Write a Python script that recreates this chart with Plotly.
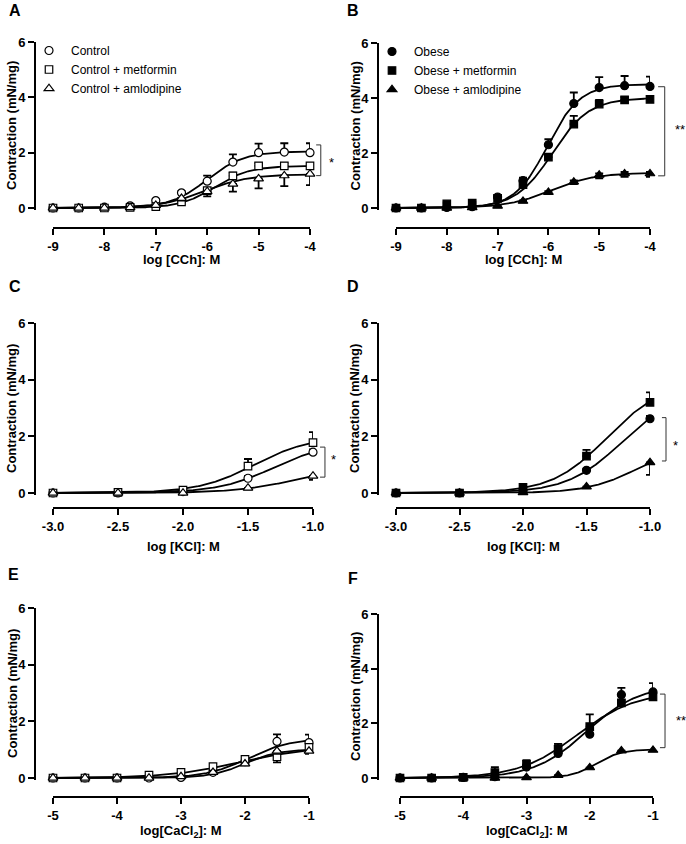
import numpy as np
import plotly.graph_objects as go

W, H = 686, 844

# ---------------- data ----------------
x_cch = [-9, -8.5, -8, -7.5, -7, -6.5, -6, -5.5, -5, -4.5, -4]
x_kcl = [-3.0, -2.5, -2.0, -1.5, -1.0]
x_ca = [-5, -4.5, -4, -3.5, -3, -2.5, -2, -1.5, -1]

tick_cch = [-9, -8, -7, -6, -5, -4]
tick_cch_text = ["-9", "-8", "-7", "-6", "-5", "-4"]
tick_kcl = [-3.0, -2.5, -2.0, -1.5, -1.0]
tick_kcl_text = ["-3.0", "-2.5", "-2.0", "-1.5", "-1.0"]
tick_ca = [-5, -4, -3, -2, -1]
tick_ca_text = ["-5", "-4", "-3", "-2", "-1"]
y_ticks = [0, 2, 4, 6]

names_control = ["Control", "Control + metformin", "Control + amlodipine"]
names_obese = ["Obese", "Obese + metformin", "Obese + amlodipine"]

# Panel A: CCh, control groups
A_control = [0, 0, 0.03, 0.08, 0.27, 0.55, 0.97, 1.66, 2.0, 2.02, 2.0]
A_control_up = [0, 0, 0.02, 0.03, 0.04, 0.06, 0.2, 0.28, 0.33, 0.32, 0.34]
A_control_dn = [0, 0, 0, 0, 0, 0, 0, 0, 0, 0, 0]
A_metf = [0, 0, 0, 0.02, 0.05, 0.22, 0.63, 1.16, 1.52, 1.52, 1.52]
A_metf_up = [0, 0, 0, 0.02, 0.03, 0.05, 0.08, 0.12, 0.1, 0.1, 0.1]
A_metf_dn = [0, 0, 0, 0, 0, 0, 0, 0, 0, 0, 0]
A_amlo = [0, 0, 0, 0.02, 0.1, 0.35, 0.6, 0.87, 1.06, 1.17, 1.23]
A_amlo_up = [0, 0, 0, 0, 0, 0, 0, 0, 0, 0, 0]
A_amlo_dn = [0, 0, 0, 0.02, 0.04, 0.08, 0.18, 0.28, 0.35, 0.38, 0.4]

# Panel B: CCh, obese groups
B_obese = [0, 0, 0.02, 0.05, 0.4, 1.0, 2.3, 3.8, 4.38, 4.45, 4.42]
B_obese_up = [0, 0, 0.02, 0.03, 0.08, 0.1, 0.2, 0.4, 0.38, 0.35, 0.36]
B_obese_dn = [0, 0, 0, 0, 0, 0, 0, 0, 0, 0, 0]
B_metf = [0, 0, 0.15, 0.18, 0.35, 0.85, 1.85, 3.05, 3.78, 3.93, 3.95]
B_metf_up = [0, 0, 0.05, 0.05, 0.06, 0.08, 0.1, 0.3, 0.15, 0.1, 0.1]
B_metf_dn = [0, 0, 0, 0, 0, 0, 0, 0, 0, 0, 0]
B_amlo = [0, 0, 0, 0.02, 0.07, 0.25, 0.57, 0.95, 1.2, 1.25, 1.25]
B_amlo_up = [0, 0, 0, 0, 0.02, 0.03, 0.04, 0.05, 0.06, 0.06, 0.06]
B_amlo_dn = [0, 0, 0, 0.01, 0.03, 0.04, 0.06, 0.08, 0.12, 0.12, 0.12]

# Panel C: KCl, control groups
C_control = [0, 0, 0.05, 0.52, 1.44]
C_control_up = [0, 0, 0.03, 0.08, 0.1]
C_control_dn = [0, 0, 0, 0, 0]
C_metf = [0, 0.02, 0.1, 0.95, 1.78]
C_metf_up = [0, 0.01, 0.04, 0.25, 0.37]
C_metf_dn = [0, 0, 0, 0, 0]
C_amlo = [0, 0, 0, 0.18, 0.6]
C_amlo_up = [0, 0, 0, 0, 0]
C_amlo_dn = [0, 0, 0, 0.05, 0.14]

# Panel D: KCl, obese groups
D_obese = [0, 0, 0.1, 0.8, 2.62]
D_obese_up = [0, 0, 0.03, 0.06, 0.1]
D_obese_dn = [0, 0, 0, 0, 0]
D_metf = [0, 0, 0.2, 1.3, 3.2]
D_metf_up = [0, 0, 0.05, 0.22, 0.35]
D_metf_dn = [0, 0, 0, 0, 0]
D_amlo = [0, 0, 0.02, 0.22, 1.08]
D_amlo_up = [0, 0, 0, 0, 0]
D_amlo_dn = [0, 0, 0.01, 0.04, 0.44]

# Panel E: CaCl2, control groups
E_control = [0, 0, 0, 0, 0.02, 0.2, 0.58, 1.29, 1.25]
E_control_up = [0, 0, 0, 0, 0.02, 0.05, 0.05, 0.25, 0.28]
E_control_dn = [0, 0, 0, 0, 0, 0, 0, 0, 0]
E_metf = [0, 0, 0, 0.1, 0.2, 0.4, 0.66, 0.75, 1.08]
E_metf_up = [0, 0, 0, 0, 0, 0, 0, 0, 0]
E_metf_dn = [0, 0, 0, 0.03, 0.05, 0.06, 0.05, 0.2, 0.12]
E_amlo = [0, 0, 0, 0, 0.05, 0.2, 0.5, 0.95, 0.95]
E_amlo_up = [0, 0, 0, 0, 0, 0, 0, 0, 0]
E_amlo_dn = [0, 0, 0, 0, 0.02, 0.05, 0.05, 0.1, 0.1]

# Panel F: CaCl2, obese groups
F_obese = [0, 0, 0.02, 0.05, 0.4, 0.9, 1.6, 3.05, 3.15]
F_obese_up = [0, 0, 0.02, 0.05, 0.08, 0.35, 0.15, 0.25, 0.32]
F_obese_dn = [0, 0, 0, 0, 0, 0, 0, 0, 0]
F_metf = [0, 0, 0.02, 0.2, 0.5, 1.05, 1.88, 2.75, 2.97]
F_metf_up = [0, 0, 0.02, 0.2, 0.15, 0.2, 0.45, 0.1, 0.12]
F_metf_dn = [0, 0, 0, 0, 0, 0, 0, 0, 0]
F_amlo = [0, 0, 0, 0, 0.02, 0.1, 0.38, 1.0, 1.02]
F_amlo_up = [0, 0, 0, 0, 0, 0, 0, 0, 0]
F_amlo_dn = [0, 0, 0, 0, 0.01, 0.02, 0.03, 0.03, 0.03]

# fitted sigmoid parameters [bottom, top, logEC50, hill]
fit_A = [[0, 2.05, -6.0, 1.2], [0, 1.52, -5.85, 1.3], [0, 1.22, -6.05, 1.0]]
fit_B = [[0, 4.5, -6.02, 1.35], [0, 4.0, -5.92, 1.2], [0, 1.28, -5.95, 1.0]]
fit_C = [[0, 1.8, -1.3, 2.0], [0, 2.0, -1.45, 2.0], [0, 1.0, -1.1, 1.8]]
fit_D = [[0, 3.6, -1.22, 2.0], [0, 3.9, -1.34, 2.0], [0, 1.7, -1.1, 2.2]]
fit_E = [[0, 1.4, -1.95, 1.3], [0, 1.1, -2.1, 0.8], [0, 1.02, -2.0, 1.6]]
fit_F = [[0, 3.4, -2.05, 1.05], [0, 3.15, -2.2, 0.95], [0, 1.05, -1.9, 2.2]]

# significance brackets: [x_left, x_vertical, y_top, y_bottom, x_text, y_text, text]
sig_A = [-3.88, -3.79, 2.28, 1.17, -3.58, 1.63, "*"]
sig_B = [-3.84, -3.71, 4.41, 1.17, -3.40, 2.84, "**"]
sig_C = [-0.946, -0.908, 1.62, 0.56, -0.846, 1.2, "*"]
sig_D = [-0.906, -0.874, 2.66, 1.13, -0.80, 1.69, "*"]
sig_F = [-0.89, -0.81, 3.07, 1.11, -0.56, 2.12, "**"]

# ---------------- layout config ----------------
FONT = "Arial, Liberation Sans, sans-serif"
symbols = ["circle", "square", "triangle-up"]
msizes = [8, 7.5, 8.5]

# box: x0px (first tick), x1px (last tick), y0px (y=0), y6px (y=6), y-axis line x, x-axis line y
panels = [
    dict(k=1, letter="A", x=x_cch, ys=[(A_control, A_control_up, A_control_dn), (A_metf, A_metf_up, A_metf_dn), (A_amlo, A_amlo_up, A_amlo_dn)],
         fits=fit_A, names=names_control, filled=False, legend="legend", box=(53, 310, 208, 42, 35, 228),
         xr=[-9, -4], tv=tick_cch, tt=tick_cch_text, xtitle="log [CCh]: M", xtitle_y=260, sig=sig_A, letter_xy=(15, 11)),
    dict(k=2, letter="B", x=x_cch, ys=[(B_obese, B_obese_up, B_obese_dn), (B_metf, B_metf_up, B_metf_dn), (B_amlo, B_amlo_up, B_amlo_dn)],
         fits=fit_B, names=names_obese, filled=True, legend="legend2", box=(396, 650, 208, 43, 378, 228),
         xr=[-9, -4], tv=tick_cch, tt=tick_cch_text, xtitle="log [CCh]: M", xtitle_y=260, sig=sig_B, letter_xy=(353, 11)),
    dict(k=3, letter="C", x=x_kcl, ys=[(C_control, C_control_up, C_control_dn), (C_metf, C_metf_up, C_metf_dn), (C_amlo, C_amlo_up, C_amlo_dn)],
         fits=fit_C, names=names_control, filled=False, legend=None, box=(53, 313, 493, 323, 35, 508),
         xr=[-3, -1], tv=tick_kcl, tt=tick_kcl_text, xtitle="log [KCl]: M", xtitle_y=546, sig=sig_C, letter_xy=(15, 286)),
    dict(k=4, letter="D", x=x_kcl, ys=[(D_obese, D_obese_up, D_obese_dn), (D_metf, D_metf_up, D_metf_dn), (D_amlo, D_amlo_up, D_amlo_dn)],
         fits=fit_D, names=names_obese, filled=True, legend=None, box=(396, 650, 493, 323, 378, 508),
         xr=[-3, -1], tv=tick_kcl, tt=tick_kcl_text, xtitle="log [KCl]: M", xtitle_y=546, sig=sig_D, letter_xy=(353, 286)),
    dict(k=5, letter="E", x=x_ca, ys=[(E_control, E_control_up, E_control_dn), (E_metf, E_metf_up, E_metf_dn), (E_amlo, E_amlo_up, E_amlo_dn)],
         fits=fit_E, names=names_control, filled=False, legend=None, box=(53, 309, 778, 608, 35, 797),
         xr=[-5, -1], tv=tick_ca, tt=tick_ca_text, xtitle="log[CaCl<sub>2</sub>]: M", xtitle_y=831, sig=None, letter_xy=(13, 574)),
    dict(k=6, letter="F", x=x_ca, ys=[(F_obese, F_obese_up, F_obese_dn), (F_metf, F_metf_up, F_metf_dn), (F_amlo, F_amlo_up, F_amlo_dn)],
         fits=fit_F, names=names_obese, filled=True, legend=None, box=(400, 653, 778, 614, 378, 797),
         xr=[-5, -1], tv=tick_ca, tt=tick_ca_text, xtitle="log[CaCl<sub>2</sub>]: M", xtitle_y=831, sig=sig_F, letter_xy=(353, 578)),
]

fig = go.Figure()
layout = dict(width=W, height=H, margin=dict(l=0, r=0, t=0, b=0, autoexpand=False),
              paper_bgcolor="white", plot_bgcolor="rgba(0,0,0,0)",
              font=dict(family=FONT, color="black"))
shapes = []
annotations = []
YPAD = 0.08

for p in panels:
    k = p["k"]
    sx = "" if k == 1 else str(k)
    xref, yref = "x" + sx, "y" + sx
    x0, x1, y0, y6, ylx, xly = p["box"]
    ppu = (y0 - y6) / 6.0
    tickfont = dict(family=FONT, size=13, color="black", weight="bold")
    layout["xaxis" + sx] = dict(domain=[x0 / W, x1 / W], range=p["xr"], anchor="free", position=1 - xly / H,
                               showline=True, linewidth=2, linecolor="black", ticks="outside", ticklen=6,
                               tickwidth=2, tickcolor="black", tickvals=p["tv"], ticktext=p["tt"],
                               showgrid=False, zeroline=False, tickfont=tickfont, fixedrange=True,
                               automargin=False)
    layout["yaxis" + sx] = dict(domain=[1 - (y0 + YPAD * ppu) / H, 1 - y6 / H], range=[-YPAD, 6], anchor="free",
                               position=ylx / W, showline=True, linewidth=2, linecolor="black", ticks="outside",
                               ticklen=6, tickwidth=2, tickcolor="black", tickvals=y_ticks,
                               showgrid=False, zeroline=False, tickfont=tickfont, fixedrange=True,
                               automargin=False)

    # fitted curves
    xx = np.linspace(p["xr"][0], p["xr"][1], 300)
    for f in p["fits"]:
        bottom, top, ec50, hill = f
        yy = bottom + (top - bottom) / (1 + 10 ** ((ec50 - xx) * hill))
        fig.add_trace(go.Scatter(x=xx, y=yy, mode="lines", line=dict(color="black", width=1.8),
                                 xaxis=xref, yaxis=yref, showlegend=False, hoverinfo="skip"))
    # points with error bars
    for i, (vals, up, dn) in enumerate(p["ys"]):
        fill = "black" if p["filled"] else "white"
        tr = go.Scatter(x=p["x"], y=vals, mode="markers", name=p["names"][i],
                        marker=dict(symbol=symbols[i], size=msizes[i], color=fill,
                                    line=dict(color="black", width=1.2)),
                        error_y=dict(type="data", symmetric=False, array=up, arrayminus=dn,
                                     color="black", thickness=1.8, width=4),
                        cliponaxis=False, xaxis=xref, yaxis=yref,
                        showlegend=p["legend"] is not None)
        if p["legend"] is not None:
            tr.update(legend=p["legend"])
        fig.add_trace(tr)

    # significance bracket
    if p["sig"] is not None:
        xl, xv, yt, yb, xtxt, ytxt, txt = p["sig"]
        span = p["xr"][1] - p["xr"][0]
        fl = (xl - p["xr"][0]) / span
        fv = (xv - p["xr"][0]) / span
        ft = (xtxt - p["xr"][0]) / span
        dref = xref + " domain"
        ln = dict(color="#333333", width=1)
        shapes.append(dict(type="line", xref=dref, yref=yref, x0=fl, x1=fv, y0=yt, y1=yt, line=ln))
        shapes.append(dict(type="line", xref=dref, yref=yref, x0=fv, x1=fv, y0=yt, y1=yb, line=ln))
        shapes.append(dict(type="line", xref=dref, yref=yref, x0=fl, x1=fv, y0=yb, y1=yb, line=ln))
        annotations.append(dict(xref=dref, yref=yref, x=ft, y=ytxt, text=txt, showarrow=False,
                                font=dict(family=FONT, size=13, color="black"), xanchor="center", yanchor="middle"))

    # axis titles
    annotations.append(dict(xref="paper", yref="paper", x=12 / W, y=1 - ((y0 + y6) / 2 + 1) / H,
                            text="<b>Contraction (mN/mg)</b>", textangle=-90, showarrow=False,
                            font=dict(family=FONT, size=13, color="black"), xanchor="center", yanchor="middle"))
    if k % 2 == 0:
        annotations[-1]["x"] = (343 + 12) / W
    annotations.append(dict(xref="paper", yref="paper", x=(x0 + x1) / 2 / W, y=1 - p["xtitle_y"] / H,
                            text="<b>" + p["xtitle"] + "</b>", showarrow=False,
                            font=dict(family=FONT, size=13, color="black"), xanchor="center", yanchor="middle"))
    # panel letter
    lx, ly = p["letter_xy"]
    annotations.append(dict(xref="paper", yref="paper", x=lx / W, y=1 - ly / H, text="<b>" + p["letter"] + "</b>",
                            showarrow=False, font=dict(family=FONT, size=16, color="black"),
                            xanchor="center", yanchor="middle"))

legend_common = dict(xanchor="left", yanchor="top", bgcolor="rgba(0,0,0,0)", borderwidth=0,
                     font=dict(family=FONT, size=12, color="black"), tracegroupgap=0, itemclick=False,
                     itemdoubleclick=False, itemwidth=34)
layout["legend"] = dict(x=27 / W, y=1 - 36 / H, **legend_common)
layout["legend2"] = dict(x=370 / W, y=1 - 37 / H, **legend_common)
layout["shapes"] = shapes
layout["annotations"] = annotations
layout["showlegend"] = True
fig.update_layout(**layout)

fig.write_html("out.html", config={"displayModeBar": False},
               post_script="document.body.style.margin='0';document.body.style.overflow='hidden';")
